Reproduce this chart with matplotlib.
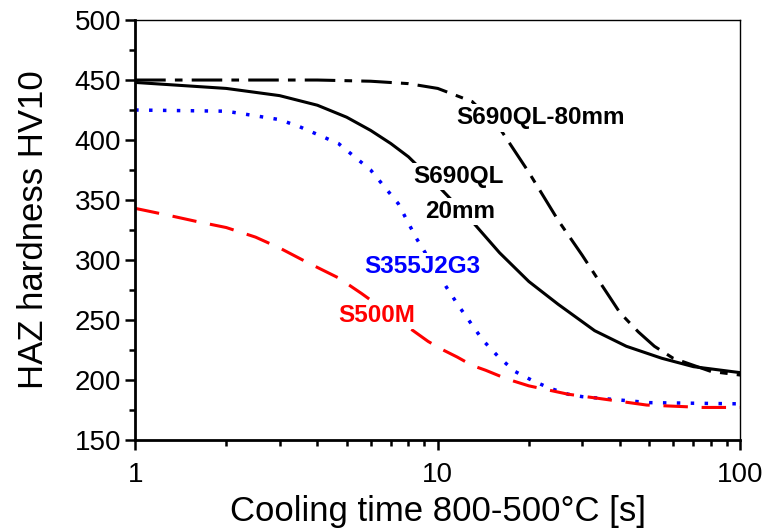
import matplotlib
matplotlib.use('Agg')
import matplotlib.pyplot as plt
from matplotlib.ticker import FixedLocator, FixedFormatter, MultipleLocator, LogLocator, NullFormatter

plt.rcParams['font.family'] = ['Liberation Sans', 'DejaVu Sans']

# S690QL-80mm (dash-dot)
x_80 = [1, 2, 4, 6, 8, 10, 13, 16, 20, 25, 30, 34, 37, 40, 46, 52, 60, 80, 100]
hv_80 = [450, 450, 450, 449, 447, 443, 432, 410, 373, 333, 304, 283, 269, 256, 240, 228, 218, 207, 204]

# S690QL 20mm (solid)
x_20 = [1, 2, 3, 4, 5, 6, 7, 8, 10, 13, 16, 20, 25, 33, 42, 55, 70, 100]
hv_20 = [448, 443, 437, 429, 419, 408, 397, 386, 362, 332, 306, 282, 263, 241, 228, 218, 211, 206]

# S355J2G3 (dotted blue)
x_355 = [1, 2, 3, 3.5, 4.7, 6, 7.4, 8.5, 10.7, 11.7, 12.8, 14.1, 15.9, 18, 20.7, 23.5, 27, 30, 50, 100]
hv_355 = [425, 424, 417, 411, 397, 375, 347, 318, 277, 262, 248, 233, 219, 207, 199, 193, 188, 186, 181, 180]

# S500M (dashed red)
x_500 = [1, 1.3, 1.6, 2, 2.5, 3, 3.7, 4.7, 5.6, 8.4, 9.3, 10.4, 11.6, 13, 14.4, 16.1, 17.8, 20, 27, 33, 49, 75, 100]
hv_500 = [343, 337, 332, 327, 319, 310, 298, 285, 272, 240, 232, 225, 219, 212, 208, 203, 199, 195, 188, 185, 179, 177, 177]

x_ticks = [1, 10, 100]
x_tick_labels = ['1', '10', '100']

fig = plt.figure(figsize=(7.68, 5.28), dpi=100)
ax = fig.add_axes([0.176, 0.167, 0.788, 0.795])

ax.plot(x_80, hv_80, color='black', lw=2.2, dashes=(10, 3, 2.5, 3))
ax.plot(x_20, hv_20, color='black', lw=2.2)
ax.plot(x_355, hv_355, color='blue', lw=2.5, dashes=(1, 3))
ax.plot(x_500, hv_500, color='red', lw=2.2, dashes=(8, 4.5))

ax.set_xscale('log')
ax.set_xlim(1, 100)
ax.set_ylim(150, 500)
ax.yaxis.set_major_locator(MultipleLocator(50))
ax.yaxis.set_minor_locator(MultipleLocator(25))
ax.xaxis.set_major_locator(FixedLocator(x_ticks))
ax.xaxis.set_major_formatter(FixedFormatter(x_tick_labels))
ax.xaxis.set_minor_locator(LogLocator(base=10, subs=range(2, 10)))
ax.xaxis.set_minor_formatter(NullFormatter())

ax.tick_params(which='major', direction='out', length=7, width=1.8, labelsize=20, pad=3)
ax.tick_params(which='minor', direction='out', length=4.5, width=1.8)
ax.tick_params(axis='x', which='major', pad=9)
for s in ['left', 'bottom']:
    ax.spines[s].set_linewidth(2)
for s in ['top', 'right']:
    ax.spines[s].set_linewidth(1)

ax.set_xlabel('Cooling time 800-500°C [s]', fontsize=25, labelpad=5)
ax.set_ylabel('HAZ hardness HV10', fontsize=25, labelpad=18)

tkw = dict(fontsize=17.5, fontweight='bold', ha='center', va='baseline',
           bbox=dict(facecolor='white', edgecolor='none', pad=1.5))
ax.text(21.8, 413, 'S690QL-80mm', color='black', **tkw)
ax.text(11.7, 364, 'S690QL', color='black', **tkw)
ax.text(11.9, 335, '20mm', color='black', **tkw)
ax.text(8.87, 289, 'S355J2G3', color='blue', **tkw)
ax.text(6.3, 248, 'S500M', color='red', **tkw)

fig.savefig('out.png', dpi=100)
